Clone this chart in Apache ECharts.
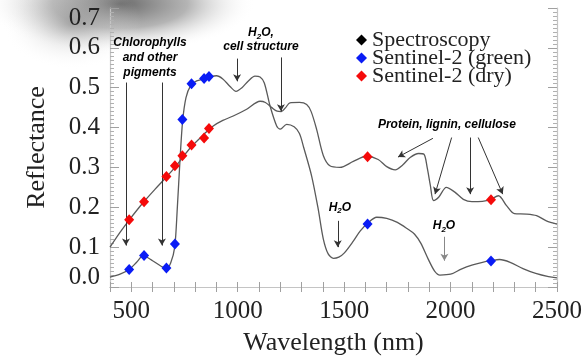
<!DOCTYPE html>
<html><head><meta charset="utf-8">
<script src="https://cdn.jsdelivr.net/npm/echarts@6/dist/echarts.min.js"></script>
<style>html,body{margin:0;padding:0;background:#fff}#c{width:587px;height:361px}</style>
</head><body><div id="c"></div>
<script>
// ---- data ----
const greenWl = [400,450,490,525,556,600,640,665,685,704,716,729,741,757,779,807,841,870,900,930,964,992,1020,1050,1081,1105,1125,1152,1183,1200,1230,1265,1290,1310,1347,1378,1402,1425,1450,1475,1500,1543,1575,1610,1653,1700,1750,1800,1830,1860,1895,1925,1950,2000,2050,2100,2150,2190,2230,2280,2340,2400,2460,2500];
const greenRefl = [0.025,0.033,0.044,0.062,0.078,0.066,0.052,0.047,0.060,0.100,0.196,0.320,0.415,0.475,0.505,0.517,0.522,0.527,0.530,0.522,0.503,0.491,0.500,0.517,0.529,0.527,0.512,0.454,0.404,0.396,0.408,0.402,0.385,0.350,0.279,0.196,0.121,0.083,0.072,0.075,0.085,0.115,0.140,0.160,0.175,0.172,0.162,0.145,0.133,0.110,0.070,0.040,0.030,0.032,0.045,0.055,0.062,0.066,0.069,0.062,0.046,0.034,0.026,0.023];
const dryWl = [400,447,490,556,611,665,705,744,782,841,885,930,979,1042,1105,1130,1160,1185,1205,1225,1245,1290,1324,1345,1371,1402,1433,1480,1543,1605,1660,1700,1740,1775,1810,1850,1875,1890,1905,1920,1945,1980,2020,2060,2100,2150,2185,2225,2263,2300,2357,2404,2450,2500];
const dryRefl = [0.100,0.137,0.168,0.212,0.245,0.276,0.300,0.327,0.352,0.383,0.404,0.418,0.429,0.446,0.466,0.463,0.450,0.441,0.440,0.450,0.462,0.463,0.458,0.440,0.395,0.330,0.304,0.300,0.315,0.328,0.320,0.302,0.294,0.306,0.325,0.335,0.333,0.300,0.255,0.217,0.226,0.250,0.238,0.220,0.214,0.215,0.219,0.229,0.204,0.184,0.183,0.179,0.166,0.158];
const s2Bands = [490,560,665,705,740,783,842,865,1610,2190];
const s2Green = [0.044,0.079,0.0475,0.108,0.42,0.51,0.523,0.528,0.158,0.065];
const s2Dry = [0.169,0.214,0.2775,0.304,0.329,0.3565,0.374,0.3975,0.327,0.219];
const xTickLabels = [500,1000,1500,2000,2500];
const yTickLabels = [0.0,0.1,0.2,0.3,0.4,0.5,0.6,0.7];
const legendNames = ['Spectroscopy','Sentinel-2 (green)','Sentinel-2 (dry)'];

// ---- annotations (data coordinates) ----
const arrowFrom = [[475,0.513],[644,0.513],[997,0.573],[1203,0.576],[1917,0.373],[2005,0.375],[2092,0.375],[2130,0.375],[1470,0.166],[1971,0.126]];
const arrowTo   = [[475,0.104],[644,0.104],[997,0.516],[1203,0.441],[1753,0.326],[1927,0.233],[2092,0.233],[2245,0.233],[1470,0.100],[1971,0.066]];
const arrowColors = ['#333','#333','#333','#333','#333','#333','#333','#333','#333','#888'];
const noteText = ['Chlorophylls','and other','pigments','H_2O,','cell structure','Protein, lignin, cellulose','H_2O','H_2O'];
const notePos = [[588,0.613],[588,0.576],[588,0.538],[1109,0.638],[1109,0.603],[1983,0.406],[1480,0.200],[1969,0.153]];

const SERIF = '"Liberation Serif","Times New Roman",serif';
const SANS = '"Liberation Sans",Arial,sans-serif';
const zip = (a,b) => a.map((v,i)=>[v,b[i]]);

const chart = echarts.init(document.getElementById('c'), null, {renderer:'canvas'});

const markData = arrowFrom.map((f,i)=>{
  const ls = {color: arrowColors[i], width: 1, type:'solid'};
  return [{coord:f, lineStyle:ls}, {coord:arrowTo[i], lineStyle:ls}];
});

const axisCommon = {
  type:'value', min:400, max:2500, interval:100,
  splitLine:{show:false},
  axisLine:{show:true, lineStyle:{color:'#c4c4c4', width:1.2}},
  axisTick:{show:true, inside:true, length:5, lineStyle:{color:'#a0a0a0'}},
};

const option = {
  animation:false,
  backgroundColor:'#fff',
  grid:{left:110, top:8, width:447, height:280, containLabel:false},
  legend:{
    orient:'vertical', left:356, top:29, itemGap:-4, itemWidth:11, itemHeight:11, padding:0,
    selectedMode:false,
    textStyle:{fontFamily:SERIF, fontSize:22, color:'#222'},
    data:[
      {name:legendNames[0], icon:'diamond', itemStyle:{color:'#000', borderWidth:0}},
      {name:legendNames[1], icon:'diamond', itemStyle:{color:'#0a1cf5', borderWidth:0}},
      {name:legendNames[2], icon:'diamond', itemStyle:{color:'#f50a0a', borderWidth:0}}
    ]
  },
  xAxis:[
    Object.assign({}, axisCommon, {
      position:'bottom',
      axisLabel:{show:true, margin:12, fontFamily:SERIF, fontSize:25, color:'#222',
        formatter:v => (xTickLabels.indexOf(v) >= 0 ? String(v) : '')},
      name:'Wavelength (nm)', nameLocation:'middle', nameGap:43,
      nameTextStyle:{fontFamily:SERIF, fontSize:26, color:'#222'}
    }),
    Object.assign({}, axisCommon, {position:'top', axisLabel:{show:false}})
  ],
  yAxis:[
    {
      type:'value', min:0, max:0.7, interval:0.1, position:'left',
      splitLine:{show:false},
      axisLine:{show:true, lineStyle:{color:'#c4c4c4', width:1.2}},
      axisTick:{show:true, inside:true, length:9, lineStyle:{color:'#a0a0a0'}},
      minorTick:{show:true, splitNumber:10, length:4, lineStyle:{color:'#b0b0b0'}},
      axisLabel:{margin:10, fontFamily:SERIF, fontSize:25, color:'#222', lineHeight:20,
        verticalAlignMinLabel:'bottom', verticalAlignMaxLabel:'top',
        formatter:v => (yTickLabels.some(t=>Math.abs(t-v)<1e-6) ? v.toFixed(1) : '')},
      name:'Reflectance', nameLocation:'middle', nameGap:60,
      nameTextStyle:{fontFamily:SERIF, fontSize:26, color:'#222'}
    },
    {
      type:'value', min:0, max:0.7, interval:0.1, position:'right',
      splitLine:{show:false},
      axisLine:{show:true, lineStyle:{color:'#c4c4c4', width:1.2}},
      axisTick:{show:true, inside:true, length:9, lineStyle:{color:'#a0a0a0'}},
      minorTick:{show:true, splitNumber:10, length:4, lineStyle:{color:'#b0b0b0'}},
      axisLabel:{show:false}
    }
  ],
  series:[
    {
      name:legendNames[0], type:'line', data:zip(greenWl, greenRefl), symbol:'none',
      smooth:0.3, lineStyle:{color:'#5a5a5a', width:1.3}, itemStyle:{color:'#5a5a5a'}, z:2,
      markLine:{silent:true, symbol:['none','arrow'], symbolSize:[6,7], label:{show:false},
        animation:false, data:markData}
    },
    {
      name:legendNames[0], type:'line', data:zip(dryWl, dryRefl), symbol:'none',
      smooth:0.3, lineStyle:{color:'#5a5a5a', width:1.3}, itemStyle:{color:'#5a5a5a'}, z:2
    },
    {
      name:legendNames[1], type:'scatter', data:zip(s2Bands, s2Green), symbol:'diamond',
      symbolSize:[10,11], itemStyle:{color:'#0a1cf5', opacity:1}, z:5
    },
    {
      name:legendNames[2], type:'scatter', data:zip(s2Bands, s2Dry), symbol:'diamond',
      symbolSize:[10,11], itemStyle:{color:'#f50a0a', opacity:1}, z:5
    }
  ]
};
chart.setOption(option);

// annotation texts placed through the axes
const rich = {
  n:{fontFamily:SANS, fontSize:12, fontWeight:'bold', fontStyle:'italic', color:'#222', lineHeight:16, verticalAlign:'middle'},
  s:{fontFamily:SANS, fontSize:8, fontWeight:'bold', fontStyle:'italic', color:'#222', lineHeight:8, verticalAlign:'bottom'}
};
const graphics = [
  {type:'circle', z:-10, zlevel:0, silent:true, x:120, y:4, scaleY:0.36,
   shape:{cx:0, cy:0, r:135},
   style:{fill:{type:'radial', x:0.5, y:0.5, r:0.5, colorStops:[
     {offset:0, color:'rgba(95,95,95,0.95)'},{offset:0.5, color:'rgba(140,140,140,0.65)'},{offset:1, color:'rgba(255,255,255,0)'}]}}},
  {type:'circle', z:-10, zlevel:0, silent:true, x:72, y:24, scaleY:0.65,
   shape:{cx:0, cy:0, r:70},
   style:{fill:{type:'radial', x:0.5, y:0.5, r:0.5, colorStops:[
     {offset:0, color:'rgba(140,140,140,0.55)'},{offset:1, color:'rgba(255,255,255,0)'}]}}}
];
noteText.forEach((t,i)=>{
  const p = chart.convertToPixel({xAxisIndex:0, yAxisIndex:0}, notePos[i]);
  let txt;
  if (t.indexOf('_') >= 0) {
    const parts = t.split('_');
    txt = '{n|' + parts[0] + '}{s|' + parts[1].charAt(0) + '}{n|' + parts[1].slice(1) + '}';
  } else {
    txt = '{n|' + t + '}';
  }
  graphics.push({type:'text', x:p[0], y:p[1], z:10, silent:true,
    style:{text:txt, rich:rich, align:'center', verticalAlign:'middle'}});
});
chart.setOption({graphic:graphics});
</script>
</body></html>
